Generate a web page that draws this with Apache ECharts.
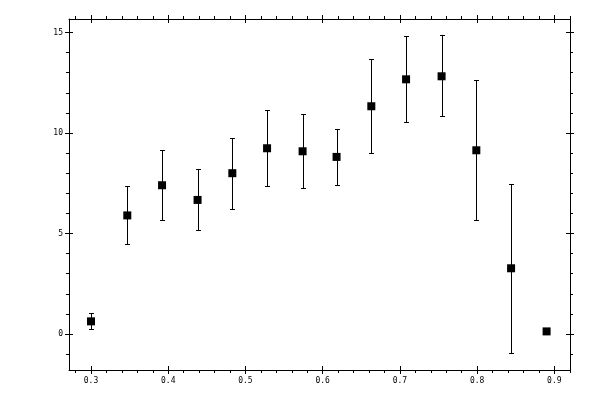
<!DOCTYPE html>
<html><head><meta charset="utf-8">
<script src="https://cdn.jsdelivr.net/npm/echarts@6/dist/echarts.min.js"></script>
<style>html,body{margin:0;padding:0;background:#fff}#c{width:600px;height:400px}</style>
</head><body><div id="c"></div>
<script>
const xVals = [0.300, 0.347, 0.392, 0.438, 0.483, 0.528, 0.574, 0.618, 0.663, 0.708, 0.754, 0.799, 0.844, 0.890];
const yVals = [0.63, 5.90, 7.40, 6.67, 8.00, 9.24, 9.09, 8.81, 11.33, 12.67, 12.82, 9.14, 3.27, 0.13];
const errLow = [0.23, 4.46, 5.66, 5.16, 6.20, 7.35, 7.25, 7.40, 8.99, 10.53, 10.83, 5.66, -0.96, null];
const errHigh = [1.03, 7.35, 9.14, 8.19, 9.75, 11.14, 10.93, 10.18, 13.67, 14.81, 14.88, 12.62, 7.46, null];
const xMajor = [0.3, 0.4, 0.5, 0.6, 0.7, 0.8, 0.9];
const xMinor = [0.28, 0.32, 0.34, 0.36, 0.38, 0.42, 0.44, 0.46, 0.48, 0.52, 0.54, 0.56, 0.58, 0.62, 0.64, 0.66, 0.68, 0.72, 0.74, 0.76, 0.78, 0.82, 0.84, 0.86, 0.88, 0.92];
const yMajor = [0, 5, 10, 15];
const yMinor = [-1, 1, 2, 3, 4, 6, 7, 8, 9, 11, 12, 13, 14];
const xRange = [0.2715, 0.9203];
const yRange = [-1.79, 15.67];

const font = {fontFamily: 'DejaVu Sans Mono', fontSize: 8, color: '#000'};
const lineBlack = {color: '#000', width: 1};

function mkAxis(kind, pos, ticks, opts) {
  const range = kind === 'x' ? xRange : yRange;
  return {
    type: 'value', position: pos, min: range[0], max: range[1],
    splitLine: {show: false},
    axisLine: {show: !!opts.line, lineStyle: lineBlack, onZero: false},
    axisTick: {show: true, customValues: ticks, inside: !!opts.inside, length: opts.len, lineStyle: lineBlack},
    axisLabel: opts.label ? Object.assign({show: true, customValues: ticks, margin: opts.margin,
      formatter: v => kind === 'x' ? v.toFixed(1) : String(Math.round(v))}, font) : {show: false}
  };
}

const errData = xVals.map((x, i) => [x, errLow[i], errHigh[i]]).filter(d => d[1] !== null);

const chart = echarts.init(document.getElementById('c'), null, {renderer: 'canvas'});
chart.setOption({
  animation: false,
  backgroundColor: '#fff',
  grid: {left: 69, top: 19, right: 30, bottom: 30, containLabel: false},
  xAxis: [
    mkAxis('x', 'bottom', xMajor, {line: true, len: 4, label: true, margin: 7}),
    mkAxis('x', 'bottom', xMajor, {inside: true, len: 4}),
    mkAxis('x', 'bottom', xMinor, {len: 3}),
    mkAxis('x', 'top', xMajor, {line: true, len: 4}),
    mkAxis('x', 'top', xMajor, {inside: true, len: 4}),
    mkAxis('x', 'top', xMinor, {len: 3})
  ],
  yAxis: [
    mkAxis('y', 'left', yMajor, {line: true, len: 4, label: true, margin: 6}),
    mkAxis('y', 'left', yMajor, {inside: true, len: 4}),
    mkAxis('y', 'left', yMinor, {len: 3}),
    mkAxis('y', 'right', yMajor, {line: true, len: 4}),
    mkAxis('y', 'right', yMajor, {inside: true, len: 4}),
    mkAxis('y', 'right', yMinor, {len: 3})
  ],
  series: [
    {
      type: 'custom',
      xAxisIndex: 0, yAxisIndex: 0,
      data: errData,
      renderItem: function (params, api) {
        const x = api.value(0);
        const lo = api.coord([x, api.value(1)]);
        const hi = api.coord([x, api.value(2)]);
        const cx = Math.round(lo[0]) + 0.5;
        const ly = lo[1], hy = hi[1];
        const hw = 2.5;
        const style = {stroke: '#000', lineWidth: 1, fill: null};
        return {type: 'group', children: [
          {type: 'line', shape: {x1: cx, y1: ly, x2: cx, y2: hy}, style: style},
          {type: 'line', shape: {x1: cx - hw, y1: Math.round(hy) + 0.5, x2: cx + hw, y2: Math.round(hy) + 0.5}, style: style},
          {type: 'line', shape: {x1: cx - hw, y1: Math.round(ly) + 0.5, x2: cx + hw, y2: Math.round(ly) + 0.5}, style: style}
        ]};
      },
      z: 2
    },
    {
      type: 'scatter',
      xAxisIndex: 0, yAxisIndex: 0,
      symbol: 'rect', symbolSize: 8,
      itemStyle: {color: '#000', opacity: 1},
      emphasis: {disabled: true},
      data: xVals.map((x, i) => [x, yVals[i]]),
      z: 3
    }
  ]
});
</script></body></html>
